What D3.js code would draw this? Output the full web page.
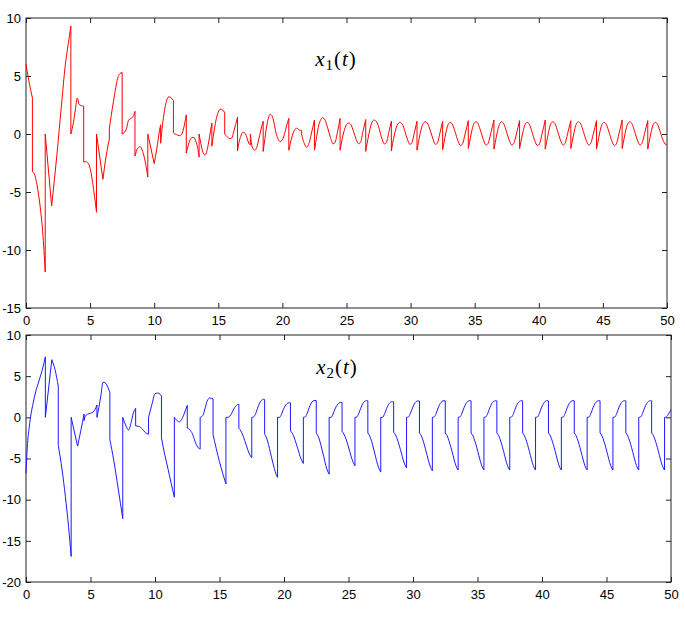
<!DOCTYPE html>
<html>
<head>
<meta charset="utf-8">
<script src="https://cdn.jsdelivr.net/npm/d3@7/dist/d3.min.js"></script>
<style>
  body { margin: 0; background: #fff; }
  svg { display: block; }
  .title { font-family: "Liberation Serif", "DejaVu Serif", serif; font-size: 21px; letter-spacing: 1px; }
</style>
</head>
<body>
<div id="container"></div>
<script>
/* DATA */
const xTicks = [0, 5, 10, 15, 20, 25, 30, 35, 40, 45, 50];
const x1Ticks = [-15, -10, -5, 0, 5, 10];
const x2Ticks = [-20, -15, -10, -5, 0, 5, 10];

// [t, x1] ; a repeated t marks a jump or a sharp corner
const x1Points = [
  [0,6.0],[0.17,4.9],[0.5,3.1],
  [0.5,-3.25],[0.7,-3.6],[0.95,-5.0],[1.15,-6.7],[1.3,-8.4],[1.5,-11.9],
  [1.5,0],[2.0,-6.2],
  [2.0,-6.2],[2.4,-1.9],[2.8,2.9],[3.05,5.8],[3.3,7.8],[3.5,9.3],
  [3.5,0],[3.7,1.0],[3.85,2.1],[4.0,3.1],[4.15,2.55],[4.3,2.45],[4.5,2.4],
  [4.5,-2.4],[4.7,-2.4],[4.87,-2.55],[5.05,-3.2],[5.2,-4.2],[5.35,-5.4],[5.5,-6.75],
  [5.5,0],[6.0,-3.9],
  [6.0,-3.9],[6.25,-1.9],[6.5,-0.45],
  [6.5,0.45],[6.65,1.6],[6.82,2.8],[7.0,4.0],[7.15,4.8],[7.32,5.2],[7.5,5.3],
  [7.5,0],[7.65,0.1],[7.85,0.5],[8.0,1.2],[8.2,1.35],[8.35,1.5],[8.5,1.95],
  [8.5,-1.9],[8.7,-1.25],[8.9,-1.1],[9.1,-1.5],[9.3,-2.4],[9.5,-3.7],
  [9.5,0],[10.0,-2.55],
  [10.0,-2.55],[10.2,-1.3],[10.4,0.2],[10.5,0.8],
  [10.5,-0.8],[10.65,0.8],[10.8,2.0],[10.95,2.8],[11.12,3.2],[11.3,3.15],[11.42,3.0],[11.5,2.9],
  [11.5,0.1],[11.6,0.0],[11.75,-0.05],[11.95,-0.15],[12.15,0.0],[12.3,0.5],[12.5,1.65],
  [12.5,-1.65],[12.65,-1.0],[12.8,-0.5],[12.95,-0.3],[13.1,-0.3],[13.25,-0.65],[13.4,-1.25],[13.5,-2.0],
  [13.5,0],[13.6,-0.6],[13.75,-1.4],[13.95,-1.8],[14.1,-1.5],[14.25,-0.7],[14.4,0.3],[14.5,0.95],
  [14.5,-1.05],[14.62,-0.1],[14.77,0.9],[14.92,1.65],[15.07,2.05],[15.22,2.15],[15.37,2.0],[15.5,1.9],
  [15.5,0],[15.7,-0.25],[15.9,-0.4],[16.05,-0.35],[16.2,0.2],[16.35,0.8],[16.5,1.45],
  [16.5,-1.45],[16.6,-0.8],[16.75,-0.2],[16.9,0.15],[17.05,0.1],[17.2,-0.2],[17.38,-0.8],[17.5,-0.95],
  [17.5,0],[17.58,-0.75],[17.7,-1.25],[17.85,-1.4],[18.0,-1.15],[18.15,-0.5],[18.3,0.25],[18.5,1.1],
  [18.5,-1.5],[18.6,-0.7],[18.75,0.5],[18.9,1.35],[19.05,1.7],[19.2,1.55],[19.35,0.95],[19.5,0.1],[19.65,-0.4],[19.82,-0.65],[19.97,-0.55],[20.12,-0.15],[20.3,0.6],[20.5,1.35],
  [20.5,-1.4],[20.62,-0.8],[20.77,-0.15],[20.95,0.35],[21.13,0.5],[21.3,0.35],[21.5,0.3],
  [21.5,0],[21.58,-0.4],[21.72,-0.85],[21.9,-1.15],[22.05,-0.9],[22.25,0.0],[22.5,1.2],
  [22.5,-1.4],[22.6,-0.75],[22.75,0.3],[22.95,1.15],[23.15,1.4],[23.35,1.15],[23.55,0.45],[23.75,-0.3],[23.95,-0.85],[24.1,-0.75],[24.3,0.2],[24.5,1.35],
  [24.5,-1.4],[24.6,-0.8],[24.75,0.0],[24.95,0.7],[25.15,0.95],[25.35,0.8],[25.55,0.2],[25.75,-0.45],[25.95,-0.85],[26.1,-0.7],[26.3,0.3],[26.5,1.25],
  [26.5,-1.5],[26.6,-0.85],[26.75,0.0],[26.95,0.9],[27.15,1.2],[27.35,1.05],[27.55,0.45],[27.75,-0.35],[27.95,-0.85],[28.1,-0.75],[28.3,0.15],[28.5,1.1],
  [28.5,-1.45],[28.6,-0.8],[28.75,0.0],[28.95,0.75],[29.15,1.0],[29.35,0.85],[29.55,0.25],[29.75,-0.45],[29.95,-0.9],[30.1,-0.75],[30.3,0.15],[30.5,1.1],
  [30.5,-1.4],[30.6,-0.8],[30.75,0.05],[30.95,0.85],[31.15,1.05],[31.35,0.85],[31.55,0.25],[31.75,-0.45],[31.95,-0.9],[32.1,-0.75],[32.3,0.15],[32.5,1.1],
  [32.5,-1.35],[32.6,-0.75],[32.75,0.1],[32.92,0.8],[33.1,1.0],[33.28,0.8],[33.48,0.15],[33.68,-0.55],[33.9,-1.0],[34.05,-0.85],[34.25,0.0],[34.5,1.15],
  [34.5,-1.25],[34.6,-0.7],[34.75,0.15],[34.92,0.85],[35.1,1.05],[35.28,0.85],[35.48,0.2],[35.68,-0.5],[35.9,-0.95],[36.05,-0.8],[36.25,0.05],[36.5,1.2],
  [36.5,-1.3],[36.6,-0.75],[36.75,0.1],[36.92,0.8],[37.1,1.05],[37.28,0.85],[37.48,0.2],[37.68,-0.5],[37.9,-0.95],[38.05,-0.8],[38.25,0.0],[38.5,1.15],
  [38.5,-1.25],[38.6,-0.7],[38.75,0.1],[38.92,0.8],[39.1,1.0],[39.28,0.8],[39.48,0.15],[39.68,-0.55],[39.9,-1.0],[40.05,-0.85],[40.25,0.0],[40.5,1.2],
  [40.5,-1.3],[40.6,-0.75],[40.75,0.1],[40.92,0.85],[41.1,1.05],[41.28,0.85],[41.48,0.2],[41.68,-0.5],[41.9,-0.95],[42.05,-0.8],[42.25,0.05],[42.5,1.15],
  [42.5,-1.25],[42.6,-0.7],[42.75,0.15],[42.92,0.85],[43.1,1.05],[43.28,0.85],[43.48,0.2],[43.68,-0.5],[43.9,-0.95],[44.05,-0.8],[44.25,0.0],[44.5,1.15],
  [44.5,-1.3],[44.6,-0.75],[44.75,0.1],[44.92,0.8],[45.1,1.0],[45.28,0.8],[45.48,0.15],[45.68,-0.55],[45.9,-1.0],[46.05,-0.85],[46.25,0.0],[46.5,1.2],
  [46.5,-1.25],[46.6,-0.7],[46.75,0.15],[46.92,0.85],[47.1,1.05],[47.28,0.85],[47.48,0.2],[47.68,-0.5],[47.9,-0.95],[48.05,-0.8],[48.25,0.05],[48.5,1.15],
  [48.5,-1.3],[48.6,-0.75],[48.75,0.1],[48.92,0.8],[49.1,1.0],[49.28,0.8],[49.48,0.15],[49.68,-0.5],[49.9,-0.9],[50,-0.88]
];

// [t, x2]
const x2Points = [
  [0,-6.8],[0.1,-3.6],[0.25,-1.2],[0.4,0.5],[0.55,1.7],[0.75,3.1],[1.0,4.4],[1.25,5.7],[1.5,7.35],
  [1.5,0],[2.0,7.0],
  [2.0,7.0],[2.25,5.8],[2.5,3.8],
  [2.5,-3.4],[2.8,-6.4],[3.05,-9.6],[3.3,-13.3],[3.5,-16.9],
  [3.5,0],[4.0,-3.5],
  [4.0,-3.5],[4.25,-1.6],[4.5,0.4],
  [4.5,-0.4],[4.6,0.15],[4.8,0.4],[5.0,0.5],[5.2,0.65],[5.35,0.95],[5.5,1.5],
  [5.5,0],[5.65,1.2],[5.8,2.6],[5.97,4.25],[6.12,4.2],[6.3,3.8],[6.5,3.0],
  [6.5,-2.7],[6.8,-5.2],[7.15,-8.7],[7.5,-12.3],
  [7.5,0],[7.7,-0.85],[7.95,-1.55],[8.15,-0.6],[8.3,0.4],[8.5,1.1],
  [8.5,-1.05],[8.75,-1.1],[9.0,-1.4],[9.25,-1.85],[9.5,-2.05],
  [9.5,0],[9.75,1.5],[10.0,2.85],[10.2,2.95],[10.4,2.8],[10.5,2.6],
  [10.5,-2.5],[10.75,-4.5],[11.0,-6.2],[11.25,-8.0],[11.5,-9.7],
  [11.5,0],[11.65,-0.3],[11.85,-0.55],[12.05,-0.3],[12.25,0.4],[12.5,1.45],
  [12.5,-1.3],[12.7,-1.5],[12.9,-2.0],[13.1,-2.9],[13.3,-3.6],[13.5,-3.85],
  [13.5,0],[13.7,0.2],[13.9,1.2],[14.05,2.0],[14.25,2.35],[14.5,2.25],
  [14.5,-2.1],[14.75,-3.8],[15.0,-5.4],[15.25,-6.8],[15.5,-8.1],
  [15.5,0],[15.65,0.0],[15.8,0.15],[15.95,0.5],[16.1,1.0],[16.25,1.35],[16.4,1.55],[16.5,1.6],
  [16.5,-1.35],[16.65,-1.65],[16.8,-2.15],[16.95,-2.8],[17.1,-3.5],[17.25,-4.2],[17.4,-4.7],[17.5,-4.9],
  [17.5,0],[17.65,0.05],[17.8,0.45],[17.95,1.1],[18.1,1.7],[18.25,2.05],[18.4,2.2],[18.5,2.15],
  [18.5,-2.05],[18.65,-2.5],[18.8,-3.3],[18.95,-4.3],[19.1,-5.3],[19.25,-6.2],[19.4,-6.95],[19.5,-7.3],
  [19.5,0],[19.65,0.0],[19.8,0.35],[19.95,0.95],[20.1,1.4],[20.25,1.68],[20.4,1.78],[20.5,1.75],
  [20.5,-1.65],[20.65,-1.95],[20.8,-2.5],[20.95,-3.2],[21.1,-3.95],[21.25,-4.75],[21.4,-5.3],[21.5,-5.6],
  [21.5,0],[21.65,0.05],[21.8,0.5],[21.95,1.15],[22.1,1.7],[22.25,1.98],[22.4,2.06],[22.5,2.03],
  [22.5,-1.9],[22.65,-2.3],[22.8,-3.0],[22.95,-3.95],[23.1,-4.9],[23.25,-5.9],[23.4,-6.6],[23.5,-6.9],
  [23.5,0],[23.65,0.0],[23.8,0.4],[23.95,1.0],[24.1,1.45],[24.25,1.72],[24.4,1.82],[24.5,1.8],
  [24.5,-1.7],[24.65,-2.05],[24.8,-2.6],[24.95,-3.35],[25.1,-4.15],[25.25,-5.0],[25.4,-5.6],[25.5,-5.9],
  [25.5,0],[25.65,0.05],[25.8,0.5],[25.95,1.1],[26.1,1.65],[26.25,1.94],[26.4,2.02],[26.5,2.0],
  [26.5,-1.9],[26.65,-2.3],[26.8,-2.95],[26.95,-3.85],[27.1,-4.8],[27.25,-5.7],[27.4,-6.35],[27.5,-6.65],
  [27.5,0],[27.65,0.0],[27.8,0.45],[27.95,1.05],[28.1,1.55],[28.25,1.83],[28.4,1.9],[28.5,1.88],
  [28.5,-1.8],[28.65,-2.15],[28.8,-2.75],[28.95,-3.5],[29.1,-4.35],[29.25,-5.2],[29.4,-5.85],[29.5,-6.15],
  [29.5,0],[29.65,0.05],[29.8,0.5],[29.95,1.1],[30.1,1.62],[30.25,1.92],[30.4,2.0],[30.5,1.98],
  [30.5,-1.9],[30.65,-2.25],[30.8,-2.9],[30.95,-3.75],[31.1,-4.65],[31.25,-5.55],[31.4,-6.2],[31.5,-6.5],
  [31.5,0],[31.65,0.05],[31.8,0.5],[31.95,1.15],[32.1,1.65],[32.25,1.93],[32.4,2.02],[32.5,2.0],
  [32.5,-1.9],[32.65,-2.25],[32.8,-2.9],[32.95,-3.7],[33.1,-4.6],[33.25,-5.5],[33.4,-6.15],[33.5,-6.4],
  [33.5,0],[33.65,0.05],[33.8,0.5],[33.95,1.15],[34.1,1.65],[34.25,1.93],[34.4,2.02],[34.5,2.0],
  [34.5,-1.9],[34.65,-2.25],[34.8,-2.9],[34.95,-3.7],[35.1,-4.6],[35.25,-5.5],[35.4,-6.15],[35.5,-6.4],
  [35.5,0],[35.65,0.05],[35.8,0.5],[35.95,1.15],[36.1,1.65],[36.25,1.93],[36.4,2.02],[36.5,2.0],
  [36.5,-1.9],[36.65,-2.25],[36.8,-2.9],[36.95,-3.7],[37.1,-4.6],[37.25,-5.5],[37.4,-6.15],[37.5,-6.4],
  [37.5,0],[37.65,0.05],[37.8,0.5],[37.95,1.15],[38.1,1.65],[38.25,1.93],[38.4,2.02],[38.5,2.0],
  [38.5,-1.9],[38.65,-2.25],[38.8,-2.9],[38.95,-3.7],[39.1,-4.6],[39.25,-5.5],[39.4,-6.15],[39.5,-6.4],
  [39.5,0],[39.65,0.05],[39.8,0.5],[39.95,1.15],[40.1,1.65],[40.25,1.93],[40.4,2.02],[40.5,2.0],
  [40.5,-1.9],[40.65,-2.25],[40.8,-2.9],[40.95,-3.7],[41.1,-4.6],[41.25,-5.5],[41.4,-6.15],[41.5,-6.4],
  [41.5,0],[41.65,0.05],[41.8,0.5],[41.95,1.15],[42.1,1.65],[42.25,1.93],[42.4,2.02],[42.5,2.0],
  [42.5,-1.9],[42.65,-2.25],[42.8,-2.9],[42.95,-3.7],[43.1,-4.6],[43.25,-5.5],[43.4,-6.15],[43.5,-6.4],
  [43.5,0],[43.65,0.05],[43.8,0.5],[43.95,1.15],[44.1,1.65],[44.25,1.93],[44.4,2.02],[44.5,2.0],
  [44.5,-1.9],[44.65,-2.25],[44.8,-2.9],[44.95,-3.7],[45.1,-4.6],[45.25,-5.5],[45.4,-6.15],[45.5,-6.4],
  [45.5,0],[45.65,0.05],[45.8,0.5],[45.95,1.15],[46.1,1.65],[46.25,1.93],[46.4,2.02],[46.5,2.0],
  [46.5,-1.9],[46.65,-2.25],[46.8,-2.9],[46.95,-3.7],[47.1,-4.6],[47.25,-5.5],[47.4,-6.15],[47.5,-6.4],
  [47.5,0],[47.65,0.05],[47.8,0.5],[47.95,1.15],[48.1,1.65],[48.25,1.93],[48.4,2.02],[48.5,2.0],
  [48.5,-1.9],[48.65,-2.25],[48.8,-2.9],[48.95,-3.7],[49.1,-4.6],[49.25,-5.5],[49.4,-6.15],[49.5,-6.4],
  [49.5,0],[49.65,0.05],[49.8,0.4],[50,0.95]
];

/* LAYOUT */
const width = 685, height = 617;
const panels = [
  { points: x1Points, yTicks: x1Ticks, domain: [-15, 10], left: 26, right: 667, top: 18, bottom: 308,
    color: "#ff0000", sub: "1", titleX: 336, titleY: 66 },
  { points: x2Points, yTicks: x2Ticks, domain: [-20, 10], left: 26, right: 671, top: 335, bottom: 582,
    color: "#1a1aff", sub: "2", titleX: 337, titleY: 374 }
];

const fmt = d => d < 0 ? "-" + Math.abs(d) : String(d);

const svg = d3.select("#container")
  .append("svg")
  .attr("width", width)
  .attr("height", height);

// split at repeated t so jumps stay vertical
function splitSegments(points) {
  const segs = [];
  const jumps = [];
  let cur = [points[0]];
  for (let i = 1; i < points.length; i++) {
    if (points[i][0] === points[i - 1][0]) {
      segs.push(cur);
      if (points[i][1] !== points[i - 1][1]) jumps.push([points[i - 1], points[i]]);
      cur = [points[i]];
    } else {
      cur.push(points[i]);
    }
  }
  segs.push(cur);
  return { segs, jumps };
}

panels.forEach(p => {
  const xScale = d3.scaleLinear().domain([0, 50]).range([p.left, p.right]);
  const yScale = d3.scaleLinear().domain(p.domain).range([p.bottom, p.top]);

  const g = svg.append("g");

  // bottom axis with labels
  g.append("g")
    .attr("transform", `translate(0,${p.bottom})`)
    .call(d3.axisBottom(xScale).tickValues(xTicks).tickFormat(fmt).tickSizeInner(-5).tickSizeOuter(0).tickPadding(8))
    .call(a => a.select(".domain").remove());

  // top axis, ticks only
  g.append("g")
    .attr("transform", `translate(0,${p.top})`)
    .call(d3.axisTop(xScale).tickValues(xTicks).tickFormat("").tickSizeInner(-5).tickSizeOuter(0))
    .call(a => a.select(".domain").remove());

  // left axis with labels
  g.append("g")
    .attr("transform", `translate(${p.left},0)`)
    .call(d3.axisLeft(yScale).tickValues(p.yTicks).tickFormat(fmt).tickSizeInner(-5).tickSizeOuter(0).tickPadding(5))
    .call(a => a.select(".domain").remove());

  // right axis, ticks only
  g.append("g")
    .attr("transform", `translate(${p.right},0)`)
    .call(d3.axisRight(yScale).tickValues(p.yTicks).tickFormat("").tickSizeInner(-5).tickSizeOuter(0))
    .call(a => a.select(".domain").remove());

  g.selectAll("g text")
    .attr("font-family", "'Liberation Sans', Arial, sans-serif")
    .attr("font-size", 13)
    .attr("fill", "#000");
  g.selectAll("g line").attr("stroke", "#222");

  // box
  g.append("rect")
    .attr("x", p.left)
    .attr("y", p.top)
    .attr("width", p.right - p.left)
    .attr("height", p.bottom - p.top)
    .attr("fill", "none")
    .attr("stroke", "#222")
    .attr("stroke-width", 1);

  // series
  const { segs, jumps } = splitSegments(p.points);
  const smooth = d3.line()
    .x(d => xScale(d[0]))
    .y(d => yScale(d[1]))
    .curve(d3.curveMonotoneX);
  const straight = d3.line()
    .x(d => xScale(d[0]))
    .y(d => yScale(d[1]));

  g.selectAll(".seg")
    .data(segs)
    .join("path")
    .attr("class", "seg")
    .attr("d", smooth)
    .attr("fill", "none")
    .attr("stroke", p.color)
    .attr("stroke-width", 1);

  g.selectAll(".jump")
    .data(jumps)
    .join("path")
    .attr("class", "jump")
    .attr("d", straight)
    .attr("fill", "none")
    .attr("stroke", p.color)
    .attr("stroke-width", 1);

  // title x_i(t)
  const title = g.append("text")
    .attr("class", "title")
    .attr("x", p.titleX)
    .attr("y", p.titleY)
    .attr("text-anchor", "middle");
  title.append("tspan").attr("font-style", "italic").text("x");
  title.append("tspan").attr("font-size", 15).attr("dy", 4).text(p.sub);
  title.append("tspan").attr("dy", -4).text("(");
  title.append("tspan").attr("font-style", "italic").text("t");
  title.append("tspan").text(")");
});
</script>
</body>
</html>
